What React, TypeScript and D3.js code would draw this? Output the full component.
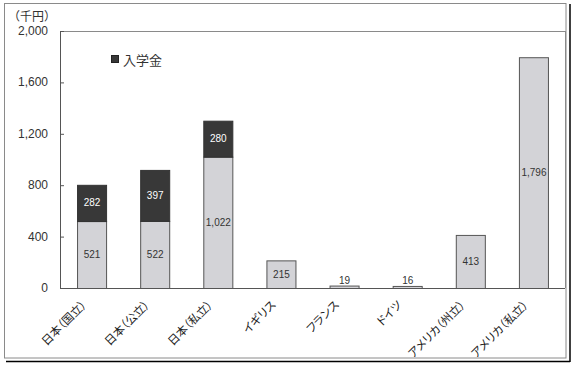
import React from "react";
import * as d3 from "d3";

const categories = ["日本（国立）", "日本（公立）", "日本（私立）", "イギリス", "フランス", "ドイツ", "アメリカ（州立）", "アメリカ（私立）"];
const tuition = [521, 522, 1022, 215, 19, 16, 413, 1796];
const admission = [282, 397, 280, 0, 0, 0, 0, 0];
const yTicks = [0, 400, 800, 1200, 1600, 2000];
const unitLabel = "（千円）";
const legendLabel = "入学金";

const W = 573, H = 366;
const plot = { left: 60, top: 31, right: 565, bottom: 288 };
const LIGHT = "#d3d3d7";
const DARK = "#383838";
const JP = "'MS PGothic','Noto Sans CJK JP',sans-serif";
const NUM = "'Liberation Sans',Arial,sans-serif";

export default function App() {
  const x = d3.scaleBand<string>().domain(categories).range([plot.left, plot.right]).paddingInner(0.54).paddingOuter(0.27);
  const y = d3.scaleLinear().domain([0, 2000]).range([plot.bottom, plot.top]);
  const fmt = d3.format(",");
  const bw = x.bandwidth();

  return (
    <svg width={W} height={H} style={{ position: "absolute", left: 0, top: 0, background: "#fff" }}>
      {/* outer frame with shadow */}
      <line x1={570} y1={4} x2={570} y2={362} stroke="#000" strokeWidth={1.5} />
      <line x1={6} y1={361.5} x2={570} y2={361.5} stroke="#000" strokeWidth={1.5} />
      <rect x={4.5} y={3.5} width={561.5} height={354.5} fill="#fff" stroke="#8a8a8a" strokeWidth={1} />

      {/* plot frame */}
      <line x1={plot.left} y1={plot.top + 0.5} x2={plot.right} y2={plot.top + 0.5} stroke="#8a8a8a" />
      <line x1={plot.right + 0.5} y1={plot.top} x2={plot.right + 0.5} y2={plot.bottom} stroke="#8a8a8a" />

      {/* bars */}
      {categories.map((c, i) => {
        const x0 = x(c)!;
        const t = tuition[i];
        const a = admission[i];
        const yT = y(t);
        const yA = y(t + a);
        const inside = y(0) - yT > 14;
        return (
          <g key={c}>
            <rect x={x0 + 0.5} y={yT + 0.5} width={bw} height={y(0) - yT} fill={LIGHT} stroke="#555" strokeWidth={1} />
            {a > 0 && (
              <rect x={x0 + 0.5} y={yA + 0.5} width={bw} height={yT - yA} fill={DARK} stroke="#333" strokeWidth={1} />
            )}
            <text x={x0 + bw / 2 + 0.5} y={inside ? (y(0) + yT) / 2 : yT - 5} textAnchor="middle" dominantBaseline="central"
              fontFamily={NUM} fontSize={10} fill="#333">{fmt(t)}</text>
            {a > 0 && (
              <text x={x0 + bw / 2 + 0.5} y={(yT + yA) / 2} textAnchor="middle" dominantBaseline="central"
                fontFamily={NUM} fontSize={10} fill="#fff">{fmt(a)}</text>
            )}
            <text transform={`translate(${x0 + bw / 2 - 8},${plot.bottom + 14}) rotate(-45)`} textAnchor="end"
              dominantBaseline="central" fontFamily={JP} fontSize={11.5} fill="#222"
              style={{ fontFeatureSettings: "'palt'" }}>{c}</text>
          </g>
        );
      })}

      {/* axes */}
      <line x1={plot.left + 0.5} y1={plot.top} x2={plot.left + 0.5} y2={plot.bottom} stroke="#555" />
      <line x1={plot.left} y1={plot.bottom + 0.5} x2={plot.right} y2={plot.bottom + 0.5} stroke="#555" />
      {yTicks.map(v => (
        <g key={v}>
          <line x1={plot.left} x2={plot.left + 4} y1={y(v) + 0.5} y2={y(v) + 0.5} stroke="#555" />
          <text x={48} y={y(v)} textAnchor="end" dominantBaseline="central" fontFamily={NUM} fontSize={12} fill="#333">{fmt(v)}</text>
        </g>
      ))}
      <text x={8} y={15} dominantBaseline="central" fontFamily={JP} fontSize={12} fill="#333">{unitLabel}</text>

      {/* legend */}
      <rect x={111.5} y={55.5} width={7} height={7} fill={DARK} stroke="#222" />
      <text x={123} y={59.5} dominantBaseline="central" fontFamily={JP} fontSize={13} fill="#333">{legendLabel}</text>
    </svg>
  );
}
